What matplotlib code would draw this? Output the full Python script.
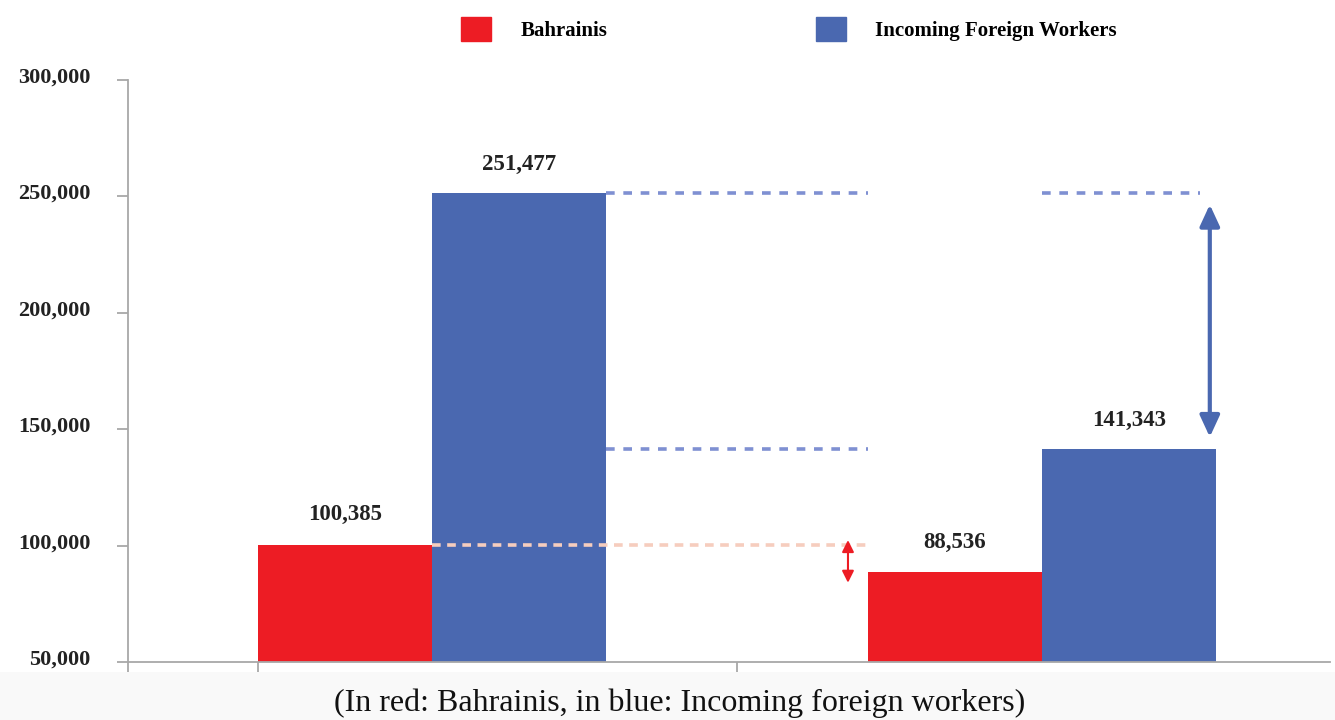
import matplotlib
matplotlib.use("Agg")
import matplotlib.pyplot as plt
import matplotlib.patches as mpatches
import matplotlib.transforms as mtransforms
from matplotlib.ticker import FuncFormatter

# ---- data ----
groups = [0, 1]
bahrainis = [100385, 88536]
foreign = [251477, 141343]
series_names = ["Bahrainis", "Incoming Foreign Workers"]
y_ticks = [50000, 100000, 150000, 200000, 250000, 300000]
caption = "(In red: Bahrainis, in blue: Incoming foreign workers)"

RED = "#ED1C24"
BLUE = "#4A68B0"
DASH_BLUE = "#7F90D2"
DASH_RED = "#F6CDBE"
AXIS = "#A8A8A8"
SERIF = ["Liberation Serif", "DejaVu Serif"]

W, H = 1335, 720
fig = plt.figure(figsize=(W / 100, H / 100), dpi=100)

# faint band behind caption
fig.patches.append(mpatches.Rectangle((0, 0), 1, 48 / H, transform=fig.transFigure,
                                      facecolor="#F9F9F9", edgecolor="none", zorder=0))

ax = fig.add_axes([128 / W, 1 - 662 / H, (1330 - 128) / W, (662 - 80) / H])
ax.set_facecolor("none")

bw = 0.285
xs = groups
ax.bar([x - bw / 2 for x in xs], bahrainis, width=bw, color=RED, bottom=0, zorder=2)
ax.bar([x + bw / 2 for x in xs], foreign, width=bw, color=BLUE, bottom=0, zorder=2)

ax.set_ylim(50000, 300000)
ax.set_xlim(-0.498, 1.472)

# dashed guide lines
dkw = dict(color=DASH_BLUE, lw=2.6, linestyle=(0, (2.4, 2.4)), zorder=3)
ax.plot([xs[0] + bw, xs[1] - bw], [foreign[0]] * 2, **dkw)
ax.plot([xs[1], xs[1] + 0.259], [foreign[0]] * 2, **dkw)
ax.plot([xs[0] + bw, xs[1] - bw], [foreign[1]] * 2, **dkw)
ax.plot([xs[0], xs[1] - bw], [bahrainis[0]] * 2, color=DASH_RED, lw=2.6,
        linestyle=(0, (2.4, 1.8)), zorder=3)

# double arrows
ax.annotate("", xy=(xs[1] + 0.275, foreign[0] - 5000), xytext=(xs[1] + 0.275, foreign[1] + 5300),
            arrowprops=dict(arrowstyle="<|-|>,head_length=1.3,head_width=0.6",
                            color=BLUE, lw=3.0, shrinkA=0, shrinkB=0), zorder=4)
ax.annotate("", xy=(xs[1] - 0.318, bahrainis[0] + 2000), xytext=(xs[1] - 0.318, bahrainis[1] - 4500),
            arrowprops=dict(arrowstyle="<|-|>,head_length=0.7,head_width=0.35",
                            color=RED, lw=1.5, shrinkA=0, shrinkB=0), zorder=4)

# value labels
lab_kw = dict(ha="center", va="bottom", fontsize=16.5, fontweight="bold", family=SERIF, color="#222222")
for x, v in zip(xs, bahrainis):
    ax.annotate(f"{v:,}", (x - bw / 2, v), xytext=(0, 14), textcoords="offset points", **lab_kw)
for x, v in zip(xs, foreign):
    ax.annotate(f"{v:,}", (x + bw / 2, v), xytext=(0, 13), textcoords="offset points", **lab_kw)

# axes styling
for s in ["top", "right"]:
    ax.spines[s].set_visible(False)
for s in ["left", "bottom"]:
    ax.spines[s].set_color(AXIS)
    ax.spines[s].set_linewidth(1.3)

ax.set_yticks(y_ticks)
ax.yaxis.set_major_formatter(FuncFormatter(lambda v, p: f"{int(v):,}"))
ax.tick_params(axis="y", length=8, width=1.3, color=AXIS, pad=19,
               labelsize=16, labelcolor="#222222")
for lbl in ax.get_yticklabels():
    lbl.set_fontfamily(SERIF)
    lbl.set_fontweight("bold")
    lbl.set_transform(lbl.get_transform() + mtransforms.ScaledTranslation(0, 5 / 100, fig.dpi_scale_trans))

ax.set_xticks([-0.498, xs[0] - bw, 0.5])
ax.set_xticklabels([])
ax.tick_params(axis="x", length=11, width=1.3, color=AXIS)

# legend
handles = [mpatches.Patch(color=RED), mpatches.Patch(color=BLUE)]
fig.legend(handles, series_names, loc="center", bbox_to_anchor=(789 / W, 1 - 29 / H),
           ncol=2, frameon=False, handlelength=1.45, handleheight=1.35, handletextpad=1.4,
           columnspacing=10.0, prop=dict(family=SERIF, weight="bold", size=15))

fig.text(680 / W, 1 - 703 / H, caption, ha="center", va="center", fontsize=23,
         family=SERIF, color="#111111")

fig.savefig("out.png", dpi=100)
